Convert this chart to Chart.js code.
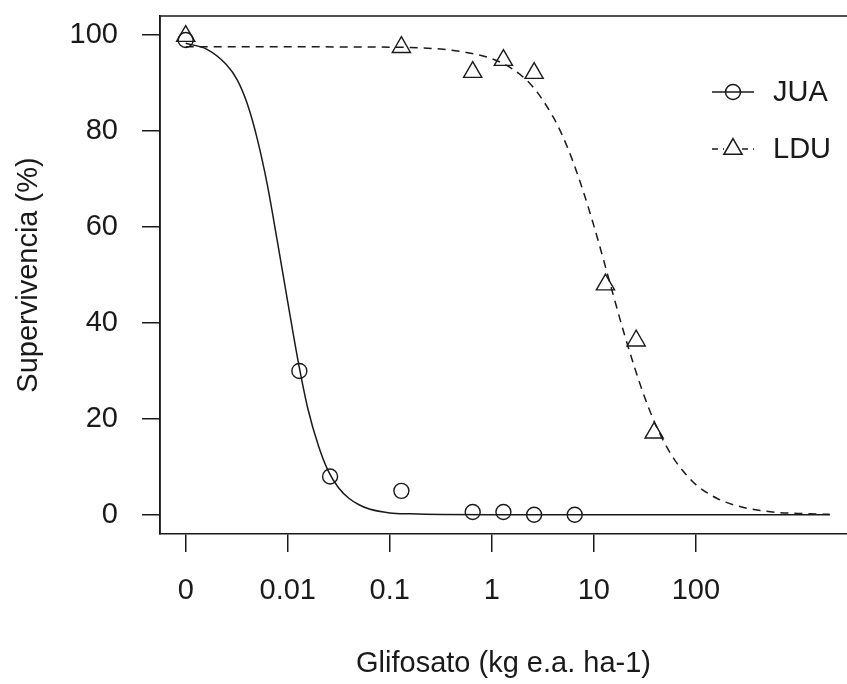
<!DOCTYPE html>
<html>
<head>
<meta charset="utf-8">
<script src="https://cdn.jsdelivr.net/npm/chart.js@4.4.1/dist/chart.umd.min.js"></script>
<style>
  html, body { margin: 0; padding: 0; background: #fff; }
</style>
</head>
<body>
<canvas id="c" width="847" height="684"></canvas>
<script>
// dose 0 is drawn at 0.001 on the log axis, like drc does
const zeroDose = 0.001

// observed points
const juaDose = [0, 0.013, 0.026, 0.13, 0.65, 1.3, 2.6, 6.5]
const juaSurv = [99, 30, 8, 5, 0.6, 0.6, 0, 0]
const lduDose = [0, 0.13, 0.65, 1.3, 2.6, 13, 26, 39]
const lduSurv = [99.8, 97.5, 92.3, 94.8, 92.1, 48, 36.3, 17.1]

// fitted curves
const juaCurveDose = [0.001, 0.0016, 0.0025, 0.0032, 0.004, 0.005, 0.0063, 0.0079, 0.01, 0.0126, 0.0158, 0.02, 0.025, 0.0316, 0.04, 0.05, 0.063, 0.1, 0.16, 0.32, 1, 10, 100, 2060]
const juaCurveSurv = [98.3, 97.1, 93.9, 90.7, 85.8, 78.6, 68.9, 57.1, 44.4, 32.2, 22.0, 14.4, 9.1, 5.6, 3.4, 2.1, 1.2, 0.4, 0.2, 0.05, 0, 0, 0, 0]
const lduCurveDose = [0.001, 0.1, 0.316, 0.562, 1, 1.585, 2.512, 3.981, 5.012, 6.31, 7.943, 10, 12.59, 15.85, 19.95, 25.12, 31.62, 39.81, 50.12, 63.1, 79.43, 100, 158.5, 251.2, 398.1, 631, 1000, 2042]
const lduCurveSurv = [97.6, 97.5, 97.1, 96.4, 95.1, 93.0, 89.3, 83.0, 78.7, 73.4, 67.2, 60.3, 52.8, 45.1, 37.6, 30.7, 24.4, 19.1, 14.7, 11.2, 8.5, 6.3, 3.5, 1.9, 1.0, 0.5, 0.3, 0.1]

const xTicks = [0.001, 0.01, 0.1, 1, 10, 100]
const xTickLabels = ['0', '0.01', '0.1', '1', '10', '100']
const yTicks = [0, 20, 40, 60, 80, 100]

const ink = '#1a1a1a'
const fam = "'Liberation Sans', Arial, sans-serif"
const fontSize = 29

const toPts = (xs, ys) => xs.map((x, i) => ({ x: x === 0 ? zeroDose : x, y: ys[i] }))

// no extra room for label overhang, the frame sits where R put it
const noPad = scale => {
	scale.paddingTop = 0
	scale.paddingBottom = 0
	scale.paddingLeft = 0
	scale.paddingRight = 0
}

// frame: left, top, bottom (right edge falls off the picture)
const boxPlugin = {
	id: 'box',
	afterDraw(chart) {
		const { ctx, chartArea: a } = chart
		ctx.save()
		ctx.strokeStyle = ink
		ctx.lineWidth = 1.5
		ctx.beginPath()
		ctx.moveTo(a.left, a.bottom)
		ctx.lineTo(a.left, a.top)
		ctx.lineTo(a.right, a.top)
		ctx.stroke()
		ctx.restore()
	}
}

// R style legend "-o- JUA", "-Δ- LDU"
const legendPlugin = {
	id: 'rlegend',
	afterDraw(chart) {
		const { ctx, chartArea: a } = chart
		const x0 = a.left + 552, x1 = a.left + 594, xm = (x0 + x1) / 2
		const rows = [
			{ y: a.top + 76, label: 'JUA', dash: [], style: 'circle', r: 7.5 },
			{ y: a.top + 133, label: 'LDU', dash: [6, 5], style: 'triangle', r: 10.5 }
		]
		ctx.save()
		ctx.strokeStyle = ink
		ctx.lineWidth = 1.5
		rows.forEach(row => {
			ctx.setLineDash(row.dash)
			ctx.beginPath()
			ctx.moveTo(x0, row.y)
			ctx.lineTo(row.style === 'circle' ? x1 : xm - 9, row.y)
			if (row.style !== 'circle') {
				ctx.moveTo(xm + 9, row.y)
				ctx.lineTo(x1, row.y)
			}
			ctx.stroke()
			ctx.setLineDash([])
			ctx.fillStyle = 'rgba(0,0,0,0)'
			Chart.helpers.drawPoint(ctx, { pointStyle: row.style, radius: row.r, borderWidth: 1.4 }, xm, row.y)
			ctx.fillStyle = ink
			ctx.font = fontSize + 'px ' + fam
			ctx.textAlign = 'left'
			ctx.textBaseline = 'middle'
			ctx.fillText(row.label, x1 + 19, row.y + 1)
		})
		ctx.restore()
	}
}

Chart.defaults.font.family = fam
Chart.defaults.color = ink

new Chart(document.getElementById('c'), {
	type: 'line',
	data: {
		datasets: [
			{
				label: 'JUA fit',
				data: toPts(juaCurveDose, juaCurveSurv),
				borderColor: ink,
				borderWidth: 1.5,
				pointRadius: 0,
				cubicInterpolationMode: 'monotone',
				fill: false
			},
			{
				label: 'LDU fit',
				data: toPts(lduCurveDose, lduCurveSurv),
				borderColor: ink,
				borderWidth: 1.5,
				borderDash: [8, 6],
				pointRadius: 0,
				cubicInterpolationMode: 'monotone',
				fill: false
			},
			{
				label: 'JUA',
				data: toPts(juaDose, juaSurv),
				showLine: false,
				pointStyle: 'circle',
				pointRadius: 7.5,
				pointBorderWidth: 1.4,
				pointBorderColor: ink,
				pointBackgroundColor: 'rgba(0,0,0,0)'
			},
			{
				label: 'LDU',
				data: toPts(lduDose, lduSurv),
				showLine: false,
				pointStyle: 'triangle',
				pointRadius: 10.5,
				pointBorderWidth: 1.4,
				pointBorderColor: ink,
				pointBackgroundColor: 'rgba(0,0,0,0)'
			}
		]
	},
	options: {
		responsive: false,
		animation: false,
		layout: { autoPadding: false, padding: { top: 16, left: 0, right: 0, bottom: 0 } },
		plugins: {
			legend: { display: false },
			tooltip: { enabled: false }
		},
		scales: {
			x: {
				type: 'logarithmic',
				min: 0.00056,
				max: 3030,
				afterBuildTicks: scale => { scale.ticks = xTicks.map(v => ({ value: v })) },
				afterFit: scale => { scale.height = 150; noPad(scale) },
				ticks: {
					autoSkip: false,
					maxRotation: 0,
					padding: 22,
					font: { size: fontSize },
					color: ink,
					callback: (v) => xTickLabels[xTicks.indexOf(v)]
				},
				grid: { display: true, drawOnChartArea: false, tickLength: 18, color: ink, lineWidth: 1.5 },
				border: { display: true, color: ink, width: 1.5 },
				title: {
					display: true,
					text: 'Glifosato (kg e.a. ha-1)',
					font: { size: fontSize },
					color: ink,
					padding: { top: 0, bottom: 3 }
				}
			},
			y: {
				type: 'linear',
				min: -4,
				max: 104,
				afterBuildTicks: scale => { scale.ticks = yTicks.map(v => ({ value: v })) },
				afterFit: scale => { scale.width = 160; noPad(scale) },
				ticks: {
					padding: 24,
					font: { size: fontSize },
					color: ink
				},
				grid: { display: true, drawOnChartArea: false, tickLength: 18, color: ink, lineWidth: 1.5 },
				border: { display: true, color: ink, width: 1.5 },
				title: {
					display: true,
					text: 'Supervivencia (%)',
					font: { size: fontSize },
					color: ink,
					padding: { top: 12, bottom: 0 }
				}
			}
		}
	},
	plugins: [boxPlugin, legendPlugin]
})
</script>
</body>
</html>
